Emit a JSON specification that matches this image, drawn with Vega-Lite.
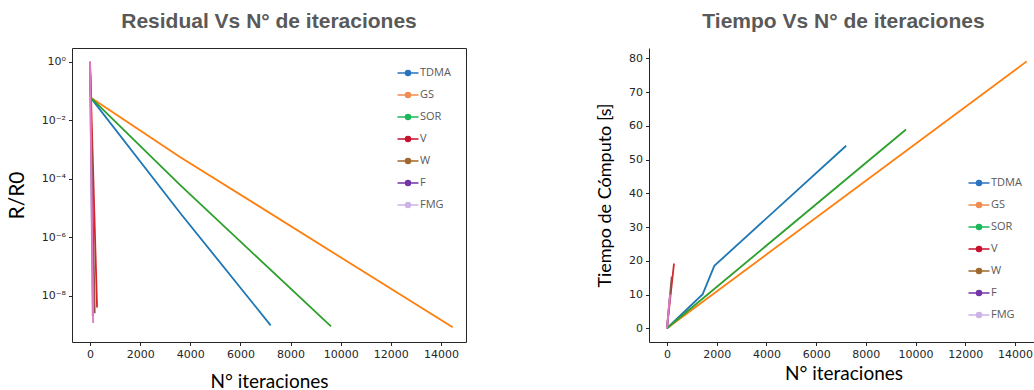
{
  "$schema": "https://vega.github.io/schema/vega-lite/v6.json",
  "padding": {"left": 5, "top": 10, "right": 0, "bottom": 0},
  "background": "white",
  "spacing": 129,
  "datasets": {
    "residual": [
      {"method": "TDMA", "iter": 0, "r": 1},
      {"method": "TDMA", "iter": 15, "r": 0.12},
      {"method": "TDMA", "iter": 40, "r": 0.058},
      {"method": "TDMA", "iter": 3590, "r": 6.9e-6},
      {"method": "TDMA", "iter": 7207, "r": 9.6e-10},
      {"method": "GS", "iter": 0, "r": 1},
      {"method": "GS", "iter": 15, "r": 0.12},
      {"method": "GS", "iter": 40, "r": 0.06},
      {"method": "GS", "iter": 3590, "r": 5.6e-4},
      {"method": "GS", "iter": 14470, "r": 8.2e-10},
      {"method": "SOR", "iter": 0, "r": 1},
      {"method": "SOR", "iter": 15, "r": 0.12},
      {"method": "SOR", "iter": 40, "r": 0.059},
      {"method": "SOR", "iter": 3590, "r": 6.2e-5},
      {"method": "SOR", "iter": 9615, "r": 8.8e-10},
      {"method": "V", "iter": 0, "r": 1},
      {"method": "V", "iter": 282, "r": 3.9e-9},
      {"method": "W", "iter": 0, "r": 1},
      {"method": "W", "iter": 189, "r": 2.5e-9},
      {"method": "F", "iter": 0, "r": 1},
      {"method": "F", "iter": 110, "r": 2e-9},
      {"method": "FMG", "iter": 0, "r": 1.07},
      {"method": "FMG", "iter": 124, "r": 1.15e-9}
    ],
    "time": [
      {"method": "TDMA", "iter": 0, "t": 0},
      {"method": "TDMA", "iter": 1436, "t": 10.1},
      {"method": "TDMA", "iter": 1903, "t": 18.5},
      {"method": "TDMA", "iter": 7207, "t": 54.1},
      {"method": "GS", "iter": 0, "t": 0},
      {"method": "GS", "iter": 14470, "t": 79.1},
      {"method": "SOR", "iter": 0, "t": 0},
      {"method": "SOR", "iter": 9615, "t": 58.9},
      {"method": "V", "iter": 0, "t": 0},
      {"method": "V", "iter": 282, "t": 19.2},
      {"method": "W", "iter": 0, "t": 0},
      {"method": "W", "iter": 189, "t": 15.3},
      {"method": "F", "iter": 0, "t": 0},
      {"method": "F", "iter": 110, "t": 9},
      {"method": "FMG", "iter": 0, "t": 0},
      {"method": "FMG", "iter": 124, "t": 10}
    ]
  },
  "resolve": {"legend": {"fill": "independent", "stroke": "independent"}},
  "hconcat": [
    {
      "width": 394,
      "height": 294,
      "data": {"name": "residual"},
      "title": {"text": "Residual Vs N° de iteraciones", "font": "Liberation Sans", "fontSize": 21, "fontWeight": "bold", "color": "#595959", "baseline": "alphabetic", "offset": -1, "anchor": "middle"},
      "encoding": {
        "x": {"field": "iter", "type": "quantitative",
          "scale": {"domain": [-718, 15000], "nice": false, "zero": false},
          "axis": {"values": [0, 2000, 4000, 6000, 8000, 10000, 12000, 14000], "format": "d", "title": "N° iteraciones", "titleFontSize": 19, "titlePadding": 13, "domain": false}},
        "y": {"field": "r", "type": "quantitative",
          "scale": {"type": "log", "domain": [2.58e-10, 3.01], "nice": false},
          "axis": {"values": [1e-8, 1e-6, 1e-4, 1e-2, 1], "labelExpr": "datum.value > 0.5 ? '10⁰' : datum.value > 0.005 ? '10⁻²' : datum.value > 0.00005 ? '10⁻⁴' : datum.value > 0.0000005 ? '10⁻⁶' : '10⁻⁸'", "title": "R/R0", "titleFontSize": 21, "titlePadding": 10, "minExtent": 35, "maxExtent": 35, "domain": false}}
      },
      "layer": [
        {
          "mark": {"type": "line", "strokeWidth": 1.8, "clip": true},
          "encoding": {
            "color": {"field": "method", "type": "nominal",
              "scale": {"domain": ["TDMA", "GS", "SOR", "V", "W", "F", "FMG"], "range": ["#1f77b4", "#ff7f0e", "#2ca02c", "#d62728", "#8c564b", "#9467bd", "#e377c2"]},
              "legend": null}
          }
        },
        {
          "mark": {"type": "point", "opacity": 0, "filled": true},
          "encoding": {
            "fill": {"field": "method", "type": "nominal",
              "scale": {"domain": ["TDMA", "GS", "SOR", "V", "W", "F", "FMG"], "range": ["#2a73c0", "#f08c50", "#19b85a", "#c8102e", "#a0682c", "#7435a8", "#cdb2e8"]},
              "legend": {"orient": "none", "legendX": 325, "legendY": 14, "title": null,
                "symbolType": "M-1.05,0L1.05,0M-0.25,0A0.25,0.25,0,1,1,0.25,0A0.25,0.25,0,1,1,-0.25,0Z",
                "symbolSize": 400, "symbolStrokeWidth": 1.5, "symbolOpacity": 1,
                "labelFont": "Open Sans", "labelFontSize": 11, "labelColor": "#595959", "labelOffset": 1,
                "rowPadding": 5, "padding": 0}},
            "stroke": {"field": "method", "type": "nominal",
              "scale": {"domain": ["TDMA", "GS", "SOR", "V", "W", "F", "FMG"], "range": ["#2a73c0", "#f08c50", "#19b85a", "#c8102e", "#a0682c", "#7435a8", "#cdb2e8"]},
              "legend": {"orient": "none", "legendX": 325, "legendY": 14, "title": null,
                "symbolType": "M-1.05,0L1.05,0M-0.25,0A0.25,0.25,0,1,1,0.25,0A0.25,0.25,0,1,1,-0.25,0Z",
                "symbolSize": 400, "symbolStrokeWidth": 1.5, "symbolOpacity": 1,
                "labelFont": "Open Sans", "labelFontSize": 11, "labelColor": "#595959", "labelOffset": 1,
                "rowPadding": 5, "padding": 0}}
          }
        }
      ]
    },
    {
      "width": 389,
      "height": 294,
      "view": {"stroke": null},
      "data": {"name": "time"},
      "title": {"text": "Tiempo Vs N° de iteraciones", "font": "Liberation Sans", "fontSize": 21, "fontWeight": "bold", "color": "#595959", "baseline": "alphabetic", "offset": -1, "anchor": "middle"},
      "encoding": {
        "x": {"field": "iter", "type": "quantitative",
          "scale": {"domain": [-724, 14925], "nice": false, "zero": false},
          "axis": {"values": [0, 2000, 4000, 6000, 8000, 10000, 12000, 14000], "format": "d", "title": "N° iteraciones", "titleFontSize": 19, "titlePadding": 5, "domain": true}},
        "y": {"field": "t", "type": "quantitative",
          "scale": {"domain": [-4.07, 83.06], "nice": false, "zero": false},
          "axis": {"values": [0, 10, 20, 30, 40, 50, 60, 70, 80], "title": "Tiempo de Cómputo [s]", "titleFontSize": 18, "titlePadding": 12, "minExtent": 23, "maxExtent": 23, "domain": true}}
      },
      "layer": [
        {
          "mark": {"type": "line", "strokeWidth": 1.8, "clip": true},
          "encoding": {
            "color": {"field": "method", "type": "nominal",
              "scale": {"domain": ["TDMA", "GS", "SOR", "V", "W", "F", "FMG"], "range": ["#1f77b4", "#ff7f0e", "#2ca02c", "#d62728", "#8c564b", "#9467bd", "#e377c2"]},
              "legend": null}
          }
        },
        {
          "mark": {"type": "point", "opacity": 0, "filled": true},
          "encoding": {
            "fill": {"field": "method", "type": "nominal",
              "scale": {"domain": ["TDMA", "GS", "SOR", "V", "W", "F", "FMG"], "range": ["#2a73c0", "#f08c50", "#19b85a", "#c8102e", "#a0682c", "#7435a8", "#cdb2e8"]},
              "legend": {"orient": "none", "legendX": 319, "legendY": 124, "title": null,
                "symbolType": "M-1.05,0L1.05,0M-0.25,0A0.25,0.25,0,1,1,0.25,0A0.25,0.25,0,1,1,-0.25,0Z",
                "symbolSize": 400, "symbolStrokeWidth": 1.5, "symbolOpacity": 1,
                "labelFont": "Open Sans", "labelFontSize": 11, "labelColor": "#595959", "labelOffset": 1,
                "rowPadding": 5, "padding": 0}},
            "stroke": {"field": "method", "type": "nominal",
              "scale": {"domain": ["TDMA", "GS", "SOR", "V", "W", "F", "FMG"], "range": ["#2a73c0", "#f08c50", "#19b85a", "#c8102e", "#a0682c", "#7435a8", "#cdb2e8"]},
              "legend": {"orient": "none", "legendX": 319, "legendY": 124, "title": null,
                "symbolType": "M-1.05,0L1.05,0M-0.25,0A0.25,0.25,0,1,1,0.25,0A0.25,0.25,0,1,1,-0.25,0Z",
                "symbolSize": 400, "symbolStrokeWidth": 1.5, "symbolOpacity": 1,
                "labelFont": "Open Sans", "labelFontSize": 11, "labelColor": "#595959", "labelOffset": 1,
                "rowPadding": 5, "padding": 0}}
          }
        },
        {
          "data": {"values": [{}]},
          "mark": {"type": "rule", "color": "#262626", "strokeWidth": 1},
          "encoding": {"y": {"datum": 83.06, "type": "quantitative",
            "axis": {"values": [0, 10, 20, 30, 40, 50, 60, 70, 80], "title": "Tiempo de Cómputo [s]", "titleFontSize": 18, "titlePadding": 12, "minExtent": 23, "maxExtent": 23, "domain": true}}}
        }
      ]
    }
  ],
  "config": {
    "view": {"stroke": "#262626", "strokeWidth": 1},
    "axis": {"grid": false, "tickSize": 3.5, "tickColor": "#262626", "domainColor": "#262626", "domainWidth": 1, "labelFont": "DejaVu Sans", "labelFontSize": 11, "labelColor": "#262626", "labelPadding": 3, "titleFont": "Lato", "titleFontWeight": "normal", "titleColor": "#000000"}
  }
}
